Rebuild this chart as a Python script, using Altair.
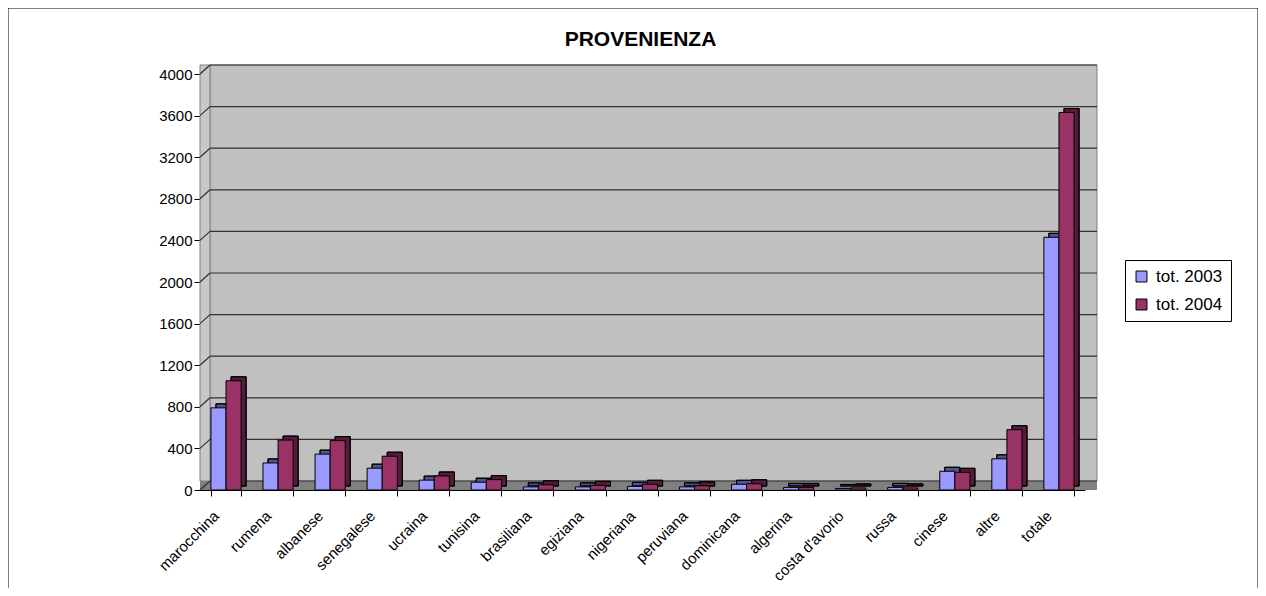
import altair as alt
import pandas as pd

categories = ["marocchina", "rumena", "albanese", "senegalese", "ucraina", "tunisina",
              "brasiliana", "egiziana", "nigeriana", "peruviana", "dominicana", "algerina",
              "costa d'avorio", "russa", "cinese", "altre", "totale"]
tot_2003 = [790, 260, 345, 210, 95, 75, 30, 30, 35, 30, 55, 25, 15, 25, 180, 300, 2430]
tot_2004 = [1050, 480, 475, 325, 135, 100, 50, 45, 55, 40, 60, 25, 20, 20, 170, 580, 3630]
series = ["tot. 2003", "tot. 2004"]
colors = ["#9999FF", "#993366"]
y_ticks = list(range(0, 4001, 400))

rows = []
for i, c in enumerate(categories):
    rows.append({"categoria": c, "serie": series[0], "valore": tot_2003[i]})
    rows.append({"categoria": c, "serie": series[1], "valore": tot_2004[i]})
df = pd.DataFrame(rows)
grid_df = pd.DataFrame({"valore": y_ticks})
one = pd.DataFrame({"a": [0]})

W, H = 885, 416
D = 9            # depth of the pseudo-3D walls
PAD_IN, PAD_OUT = 0.42, 0.21
STEP = W / (len(categories) - PAD_IN + 2 * PAD_OUT)
BW = STEP * (1 - PAD_IN)
SHIFT = 5        # pseudo-3D depth of each bar
FONT = "Liberation Sans"

x_enc = alt.X("categoria:N", sort=categories,
              scale=alt.Scale(paddingInner=PAD_IN, paddingOuter=PAD_OUT),
              axis=alt.Axis(title=None, labelAngle=-45, labelFontSize=15, labelFont=FONT,
                            labelColor="black", tickBand="extent", tickColor="black",
                            domainColor="black", tickSize=6, labelPadding=12,
                            labelOffset=-15))
y_axis = alt.Axis(title=None, values=y_ticks, format="d", labelFontSize=15, labelFont=FONT,
                  labelColor="black", tickColor="black", domainColor="black",
                  tickSize=6, grid=False, labelPadding=2)
y_scale = alt.Scale(domain=[0, 4000])
c_enc = alt.Color("serie:N", sort=series,
                  scale=alt.Scale(domain=series, range=colors),
                  legend=alt.Legend(title=None, orient="none", legendX=925, legendY=186,
                                    strokeColor="black", padding=8, symbolType="square",
                                    symbolSize=120, symbolStrokeColor="black",
                                    symbolStrokeWidth=1, labelFontSize=17, labelFont=FONT,
                                    labelColor="black", rowPadding=10, labelOffset=6))

wall = alt.Chart(one).mark_rect(fill="#C0C0C0", stroke="#808080", strokeWidth=1).encode(
    x=alt.value(D + 1), x2=alt.value(W + D + 3), y=alt.value(-D), y2=alt.value(H - D))
floor = alt.Chart(one).mark_rect(fill="#808080").encode(
    x=alt.value(0), x2=alt.value(W + D + 3), y=alt.value(H - D), y2=alt.value(H))
side = alt.Chart(one).mark_rect(fill="#C8C8C8", stroke="#808080", strokeWidth=1).encode(
    x=alt.value(0), x2=alt.value(D + 1), y=alt.value(-D), y2=alt.value(H - D))

grid = alt.Chart(grid_df).mark_rule(color="#303030", strokeWidth=1.2, yOffset=-D).encode(
    y=alt.Y("valore:Q", scale=y_scale, axis=y_axis),
    x=alt.value(D + 1), x2=alt.value(W + D + 3))
grid_side = alt.Chart(grid_df).mark_rule(color="#303030", strokeWidth=1.2, y2Offset=-D).encode(
    y=alt.Y("valore:Q", scale=y_scale, axis=y_axis), y2="valore:Q",
    x=alt.value(0), x2=alt.value(D + 1))

off_depth = alt.XOffset("serie:N", sort=series,
                        scale=alt.Scale(domain=series, range=[SHIFT, SHIFT + BW]))
off_main = alt.XOffset("serie:N", sort=series,
                       scale=alt.Scale(domain=series, range=[0, BW]))

depth = alt.Chart(df).mark_bar(yOffset=-SHIFT + 1, stroke="black", strokeWidth=1).encode(
    x=x_enc, xOffset=off_depth,
    y=alt.Y("valore:Q", scale=y_scale, axis=y_axis), color=c_enc)
shade = alt.Chart(df).mark_bar(yOffset=-SHIFT + 1, fill="black", fillOpacity=0.45,
                               stroke="black", strokeWidth=1).encode(
    x=x_enc, xOffset=off_depth,
    y=alt.Y("valore:Q", scale=y_scale, axis=y_axis))
bars = alt.Chart(df).mark_bar(stroke="black", strokeWidth=1).encode(
    x=x_enc, xOffset=off_main,
    y=alt.Y("valore:Q", scale=y_scale, axis=y_axis), color=c_enc)

title = alt.Chart(one).mark_text(text="PROVENIENZA", font=FONT, fontSize=21,
                                 fontWeight="bold", color="black", align="center",
                                 baseline="middle").encode(
    x=alt.value(W / 2 - 2), y=alt.value(-34))

frame = alt.Chart(one).mark_rect(fill="transparent", stroke="black", strokeWidth=1).encode(
    x=alt.value(-192), x2=alt.value(1058), y=alt.value(-66), y2=alt.value(600))

chart = alt.layer(wall, floor, side, grid, grid_side, depth, shade, bars, title,
                  frame).resolve_scale(xOffset="independent").properties(
    width=W, height=H,
    autosize=alt.AutoSizeParams(type="none"),
    padding={"left": 192, "top": 66, "right": 173, "bottom": 98},
).configure(background="white").configure_view(stroke="transparent")

chart.save("out.html", embed_options={"renderer": "svg", "actions": False})
